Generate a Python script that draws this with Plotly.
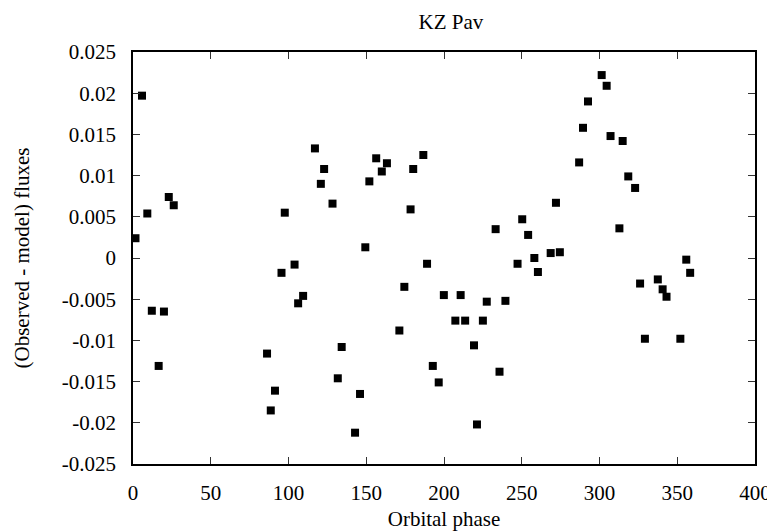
import plotly.graph_objects as go

phase = [1.6, 5.8, 9.2, 12.1, 16.5, 19.9, 23.0, 26.2,
         86.2, 88.6, 91.3, 95.5, 97.6, 103.9, 106.2, 109.4,
         117.0, 120.8, 122.9, 128.3, 131.7, 134.2, 142.8, 146.0,
         149.4, 152.0, 156.4, 160.0, 163.3, 171.3, 174.5, 178.5,
         180.2, 186.7, 189.1, 192.8, 196.6, 199.9, 207.3, 210.7,
         213.6, 219.3, 221.2, 225.0, 227.5, 233.2, 235.7, 239.5,
         247.3, 250.3, 254.1, 258.1, 260.4, 268.6, 272.0, 274.5,
         286.9, 289.4, 292.6, 301.4, 304.6, 307.1, 312.8, 314.9,
         318.5, 322.9, 326.1, 329.2, 337.5, 340.6, 343.1, 352.0,
         355.8, 358.3]

residual = [0.0024, 0.0197, 0.0054, -0.0064, -0.0131, -0.0065, 0.0074, 0.0064,
            -0.0116, -0.0185, -0.0161, -0.0018, 0.0055, -0.0008, -0.0055, -0.0046,
            0.0133, 0.0090, 0.0108, 0.0066, -0.0146, -0.0108, -0.0212, -0.0165,
            0.0013, 0.0093, 0.0121, 0.0105, 0.0115, -0.0088, -0.0035, 0.0059,
            0.0108, 0.0125, -0.0007, -0.0131, -0.0151, -0.0045, -0.0076, -0.0045,
            -0.0076, -0.0106, -0.0202, -0.0076, -0.0053, 0.0035, -0.0138, -0.0052,
            -0.0007, 0.0047, 0.0028, 0.0000, -0.0017, 0.0006, 0.0067, 0.0007,
            0.0116, 0.0158, 0.0190, 0.0222, 0.0209, 0.0148, 0.0036, 0.0142,
            0.0099, 0.0085, -0.0031, -0.0098, -0.0026, -0.0038, -0.0047, -0.0098,
            -0.0002, -0.0018]

x_ticks = [0, 50, 100, 150, 200, 250, 300, 350, 400]
y_ticks = [-0.025, -0.02, -0.015, -0.01, -0.005, 0, 0.005, 0.01, 0.015, 0.02, 0.025]
y_tick_labels = ["-0.025", "-0.02", "-0.015", "-0.01", "-0.005", "0",
                 "0.005", "0.01", "0.015", "0.02", "0.025"]

FONT = "Liberation Serif, Times New Roman, Times, serif"
FS = 21

fig = go.Figure()
fig.add_trace(go.Scatter(
    x=phase, y=residual, mode="markers",
    marker=dict(symbol="square", size=8, color="black", line=dict(width=0)),
    cliponaxis=False, showlegend=False,
))

axis_common = dict(
    showgrid=False, zeroline=False,
    showline=True, linecolor="black", linewidth=1.5, mirror="ticks",
    ticks="inside", ticklen=7, tickwidth=1, tickcolor="#333",
    tickfont=dict(family=FONT, size=FS, color="black"),
)

fig.update_layout(
    width=775, height=531,
    paper_bgcolor="white", plot_bgcolor="white",
    margin=dict(l=125, r=16, t=44, b=73),
    font=dict(family=FONT, size=FS, color="black"),
    title=dict(text="KZ Pav", x=0.5715, xanchor="center", y=0.974, yanchor="middle",
               font=dict(family=FONT, size=FS, color="black")),
    xaxis=dict(range=[0, 400], tickvals=x_ticks, ticklabelstandoff=9,
               title=dict(text="Orbital phase", font=dict(family=FONT, size=FS), standoff=7),
               **axis_common),
    yaxis=dict(range=[-0.025, 0.025], tickvals=y_ticks, ticktext=y_tick_labels,
               ticklabelstandoff=11,
               title=dict(text="(Observed - model) fluxes", font=dict(family=FONT, size=FS), standoff=26),
               **axis_common),
)

fig.write_html("out.html")
